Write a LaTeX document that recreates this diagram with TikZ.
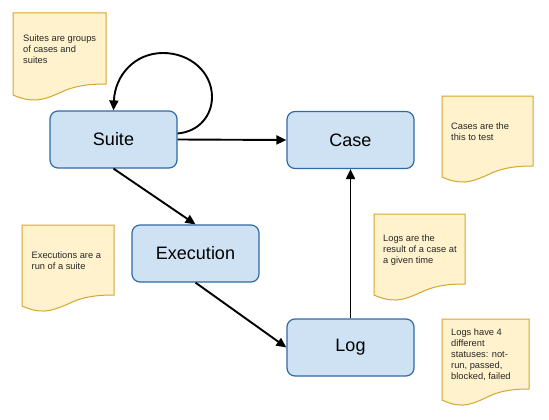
\documentclass[tikz,border=0pt]{standalone}
\usepackage{fontspec}
\setmainfont{Liberation Sans}
\usetikzlibrary{arrows.meta}
\definecolor{boxfill}{HTML}{CFE2F3}
\definecolor{boxline}{HTML}{2F6AA5}
\definecolor{notefill}{HTML}{FFF2CC}
\definecolor{noteline}{HTML}{D6A62E}
\tikzset{
  entity/.style={draw=boxline, fill=boxfill, line width=1.2pt, rounded corners=8pt,
    minimum width=127pt, minimum height=57pt, inner sep=0pt, font=\fontsize{18}{20}\selectfont},
  notebody/.style={draw=noteline, fill=notefill, line width=1pt},
  notetext/.style={anchor=north west, inner sep=0pt, align=left, font=\fontsize{9.3}{11}\selectfont, text=black!85},
  link/.style={draw=black, line width=1.9pt, -{Triangle[length=10pt,width=9pt]}}
}
\newcommand{\stickynote}[4]{% x, y, w, h
  \path[notebody] (#1,#2) -- ({#1+#3},#2) -- ({#1+#3},{#2+#4})
    .. controls ({#1+0.8*#3},{#2+#4}) and ({#1+0.65*#3},{#2+#4+2}) .. ({#1+0.5*#3},{#2+#4+9})
    .. controls ({#1+0.3*#3},{#2+#4+17}) and ({#1+0.2*#3},{#2+#4+19}) .. (#1,{#2+#4+11}) -- cycle;}
\begin{document}
\begin{tikzpicture}[x=1pt,y=-1pt]
\useasboundingbox (0,0) rectangle (549,420);
% notes
\stickynote{13}{13}{93}{71}
\node[notetext] (n1) at (23,35) {Suites are groups\\of cases and\\suites};
\stickynote{22}{225}{92}{70}
\node[notetext] (n2) at (31.5,251.5) {Executions are a\\run of a suite};
\stickynote{442}{96}{91}{70}
\node[notetext] (n3) at (451,122.5) {Cases are the\\this to test};
\stickynote{374}{214}{91}{70}
\node[notetext] (n4) at (383,235) {Logs are the\\result of a case at\\a given time};
\stickynote{442}{319}{87}{70}
\node[notetext] (n5) at (451,329) {Logs have 4\\different\\statuses: not-\\run, passed,\\blocked, failed};
% entities
\node[entity] (suite) at (113.5,139.5) {Suite};
\node[entity] (case) at (350.5,140) {Case};
\node[entity] (exec) at (195.5,253.5) {Execution};
\node[entity] (log) at (350.5,347.5) {Log};
% connectors
\draw[link] (suite.east) -- (case.west);
\draw[link] (suite.south) -- (exec.north);
\draw[link] (exec.south) -- (log.west);
\draw[link] (log.north) -- (case.south);
\draw[link] ([yshift=6pt]suite.east) .. controls +(22,-2) and (212,115) .. (212,97)
  .. controls (212,72) and (190,53) .. (163,53)
  .. controls (135,53) and (115,75) .. (suite.north);
\end{tikzpicture}
\end{document}
